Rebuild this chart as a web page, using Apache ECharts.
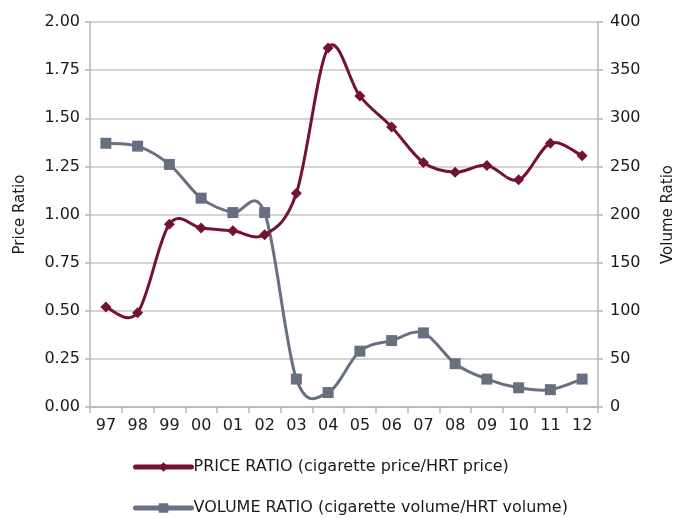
<!DOCTYPE html>
<html>
<head>
<meta charset="utf-8">
<script src="https://cdn.jsdelivr.net/npm/echarts@6/dist/echarts.min.js"></script>
<style>
  html, body { margin: 0; padding: 0; background: #fff; }
  #chart { width: 685px; height: 518px; }
</style>
</head>
<body>
<div id="chart"></div>
<script>
// Years (two-digit labels) along the category axis
const years = ['97', '98', '99', '00', '01', '02', '03', '04', '05', '06', '07', '08', '09', '10', '11', '12'];

// Cigarette price / HRT price (left axis)
const priceRatio = [0.52, 0.49, 0.95, 0.93, 0.915, 0.895, 1.11, 1.865, 1.615, 1.455, 1.27, 1.22, 1.255, 1.18, 1.37, 1.305];

// Cigarette volume / HRT volume (right axis)
const volumeRatio = [274, 271, 252, 217, 202, 202, 29, 15, 58, 69, 77, 45, 29, 20, 18, 29];

// Tick values for both value axes
const priceTicks = [0, 0.25, 0.5, 0.75, 1, 1.25, 1.5, 1.75, 2];
const volumeTicks = [0, 50, 100, 150, 200, 250, 300, 350, 400];

const PRICE_NAME = 'PRICE RATIO (cigarette price/HRT price)';
const VOLUME_NAME = 'VOLUME RATIO (cigarette volume/HRT volume)';

const FONT = 'DejaVu Sans';
const AXIS_GREY = '#b5b5b8';
const PRICE_COLOR = '#751230';
const VOLUME_COLOR = '#676f83';

// Cardinal-spline curve through every point of a series, drawn as cubic
// Bezier segments in pixel space (control offsets = neighbour chord / 6).
function splineRenderer(values, color) {
  return function (params, api) {
    if (params.dataIndex !== 0) return null;
    const pts = values.map((v, i) => api.coord([i, v]));
    const n = pts.length;
    const children = [];
    for (let i = 0; i < n - 1; i++) {
      const p0 = pts[Math.max(i - 1, 0)];
      const p1 = pts[i];
      const p2 = pts[i + 1];
      const p3 = pts[Math.min(i + 2, n - 1)];
      children.push({
        type: 'bezierCurve',
        shape: {
          x1: p1[0], y1: p1[1],
          x2: p2[0], y2: p2[1],
          cpx1: p1[0] + (p2[0] - p0[0]) / 6,
          cpy1: p1[1] + (p2[1] - p0[1]) / 6,
          cpx2: p2[0] - (p3[0] - p1[0]) / 6,
          cpy2: p2[1] - (p3[1] - p1[1]) / 6
        },
        style: { stroke: color, lineWidth: 3, fill: null, lineCap: 'round', lineJoin: 'round' }
      });
    }
    return { type: 'group', children: children };
  };
}

const chart = echarts.init(document.getElementById('chart'), null, { renderer: 'canvas' });

chart.setOption({
  animation: false,
  backgroundColor: '#ffffff',
  grid: { left: 90, right: 87, top: 22, bottom: 111 },
  legend: {
    orient: 'vertical',
    left: 133,
    top: 459,
    height: 62,
    padding: 0,
    itemGap: 25,
    itemWidth: 56,
    itemHeight: 12,
    textStyle: { fontFamily: FONT, fontSize: 16, color: '#1a1a1a', padding: [0, 0, 0, -3] },
    data: [
      { name: PRICE_NAME, lineStyle: { color: PRICE_COLOR, width: 5, opacity: 1, cap: 'round' } },
      { name: VOLUME_NAME, lineStyle: { color: VOLUME_COLOR, width: 5, opacity: 1, cap: 'round' } }
    ]
  },
  xAxis: {
    type: 'category',
    data: years,
    boundaryGap: true,
    axisLine: { lineStyle: { color: AXIS_GREY, width: 1.5 } },
    axisTick: { show: true, length: 6, alignWithLabel: false, lineStyle: { color: AXIS_GREY, width: 1.5 } },
    axisLabel: { fontFamily: FONT, fontSize: 16, color: '#1a1a1a', margin: 11 },
    splitLine: { show: false }
  },
  yAxis: [
    {
      type: 'value',
      min: priceTicks[0],
      max: priceTicks[priceTicks.length - 1],
      interval: 0.25,
      name: 'Price Ratio',
      nameLocation: 'middle',
      nameGap: 62,
      nameTextStyle: { fontFamily: FONT, fontSize: 15, color: '#1a1a1a' },
      axisLine: { show: true, lineStyle: { color: AXIS_GREY, width: 1.5 } },
      axisTick: { show: true, length: 5, lineStyle: { color: AXIS_GREY, width: 1.5 } },
      axisLabel: {
        fontFamily: FONT, fontSize: 16, color: '#1a1a1a', margin: 10,
        formatter: v => v.toFixed(2)
      },
      splitLine: { show: true, lineStyle: { color: '#c4c4c6', width: 1.5 } }
    },
    {
      type: 'value',
      min: volumeTicks[0],
      max: volumeTicks[volumeTicks.length - 1],
      interval: 50,
      name: 'Volume Ratio',
      nameLocation: 'middle',
      nameGap: 63,
      nameTextStyle: { fontFamily: FONT, fontSize: 15, color: '#1a1a1a' },
      axisLine: { show: true, lineStyle: { color: AXIS_GREY, width: 1.5 } },
      axisTick: { show: true, length: 5, lineStyle: { color: AXIS_GREY, width: 1.5 } },
      axisLabel: { fontFamily: FONT, fontSize: 16, color: '#1a1a1a', margin: 12 },
      splitLine: { show: false }
    }
  ],
  series: [
    {
      // smooth curve for the volume ratio
      type: 'custom',
      yAxisIndex: 1,
      data: volumeRatio.map((v, i) => [i, v]),
      renderItem: splineRenderer(volumeRatio, VOLUME_COLOR),
      silent: true,
      z: 1
    },
    {
      // smooth curve for the price ratio
      type: 'custom',
      yAxisIndex: 0,
      data: priceRatio.map((v, i) => [i, v]),
      renderItem: splineRenderer(priceRatio, PRICE_COLOR),
      silent: true,
      z: 3
    },
    {
      name: VOLUME_NAME,
      type: 'line',
      yAxisIndex: 1,
      data: volumeRatio,
      symbol: 'rect',
      symbolSize: 11,
      z: 2,
      lineStyle: { color: VOLUME_COLOR, width: 3, opacity: 0 },
      itemStyle: { color: VOLUME_COLOR }
    },
    {
      name: PRICE_NAME,
      type: 'line',
      yAxisIndex: 0,
      data: priceRatio,
      symbol: 'diamond',
      symbolSize: 11,
      z: 4,
      lineStyle: { color: PRICE_COLOR, width: 3, opacity: 0 },
      itemStyle: { color: PRICE_COLOR }
    }
  ]
});
</script>
</body>
</html>
